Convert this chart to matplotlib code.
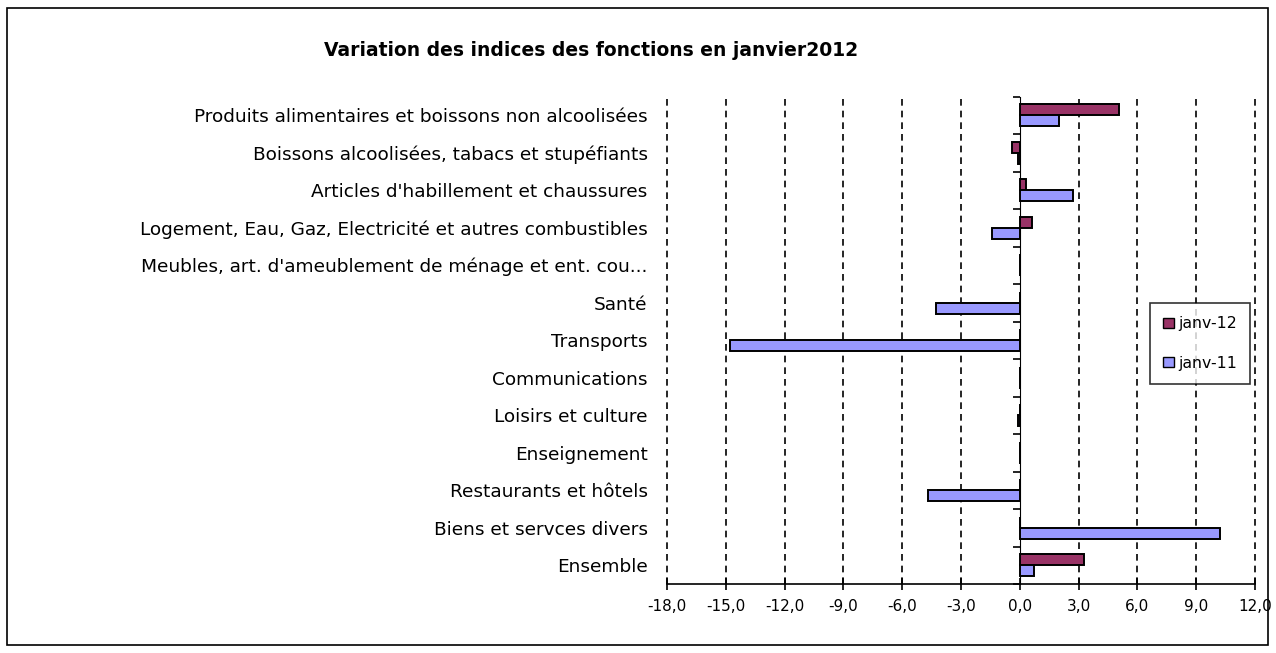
import matplotlib
matplotlib.use("Agg")
import matplotlib.pyplot as plt
import numpy as np
from matplotlib.patches import Patch, Rectangle

categories = [
    "Produits alimentaires et boissons non alcoolisées",
    "Boissons alcoolisées, tabacs et stupéfiants",
    "Articles d'habillement et chaussures",
    "Logement, Eau, Gaz, Electricité et autres combustibles",
    "Meubles, art. d'ameublement de ménage et ent. cou...",
    "Santé",
    "Transports",
    "Communications",
    "Loisirs et culture",
    "Enseignement",
    "Restaurants et hôtels",
    "Biens et servces divers",
    "Ensemble",
]
janv12 = [5.05, -0.4, 0.3, 0.6, 0.0, 0.0, 0.0, 0.0, 0.0, 0.0, 0.0, 0.0, 3.3]
janv11 = [2.0, -0.1, 2.7, -1.4, 0.0, -4.3, -14.8, 0.0, -0.1, 0.0, -4.7, 10.2, 0.7]
series_names = ["janv-12", "janv-11"]
xticks = [-18, -15, -12, -9, -6, -3, 0, 3, 6, 9, 12]

c12 = "#993366"
c11 = "#9999ff"
plt.rcParams["font.family"] = ["DejaVu Sans"]

fig = plt.figure(figsize=(12.76, 6.53), dpi=100)
ax = fig.add_axes([667 / 1276, 1 - 584 / 653, 588 / 1276, 487.5 / 653])

y = np.arange(len(categories))
h = 0.295
ax.barh(y - h / 2, janv12, height=h, color=c12, edgecolor="black", linewidth=1.4, zorder=3)
ax.barh(y + h / 2, janv11, height=h, color=c11, edgecolor="black", linewidth=1.4, zorder=3)

ax.set_xlim(-18, 12)
ax.set_ylim(len(categories) - 0.5, -0.5)
ax.set_xticks(xticks)
ax.set_xticklabels([f"{v:.1f}".replace(".", ",") for v in xticks], fontsize=11)
ax.tick_params(axis="x", direction="inout", length=8, width=1.2, pad=7)
ax.set_yticks(y)
ax.set_yticklabels(categories, fontsize=13.3)
ax.tick_params(axis="y", length=0, pad=14)

for s in ["top", "right", "left"]:
    ax.spines[s].set_visible(False)
ax.spines["bottom"].set_linewidth(1.2)

for v in xticks:
    if v != 0:
        ax.axvline(v, color="black", linestyle=(0, (4, 3)), linewidth=1.2,
                   zorder=1, clip_on=False)

# vertical axis at zero with category separator ticks
sec = ax.secondary_yaxis(18 / 30)
sec.set_yticks(np.arange(-0.5, len(categories), 1.0))
sec.set_yticklabels([])
sec.tick_params(direction="in", length=5, width=1.2)
sec.spines["left"].set_linewidth(1.2)

handles = [Patch(facecolor=c12, edgecolor="black"), Patch(facecolor=c11, edgecolor="black")]
leg = fig.legend(handles, series_names, loc="upper left",
                 bbox_to_anchor=(1150 / 1276, 1 - 303 / 653), fontsize=11.3,
                 frameon=True, fancybox=False, handlelength=0.65, handleheight=0.65,
                 handletextpad=0.3, labelspacing=1.55, borderpad=0.85, borderaxespad=0)
leg.get_frame().set_edgecolor("black")
leg.get_frame().set_linewidth(1.2)

fig.text(591 / 1276, 1 - 50 / 653, "Variation des indices des fonctions en janvier2012",
         ha="center", va="center", fontsize=13.5, fontweight="bold")

fig.patches.append(Rectangle((7 / 1276, 1 - 645 / 653), 1261 / 1276, 637 / 653,
                             transform=fig.transFigure, fill=False,
                             edgecolor="black", linewidth=1.2))

fig.savefig("out.png", dpi=100)
